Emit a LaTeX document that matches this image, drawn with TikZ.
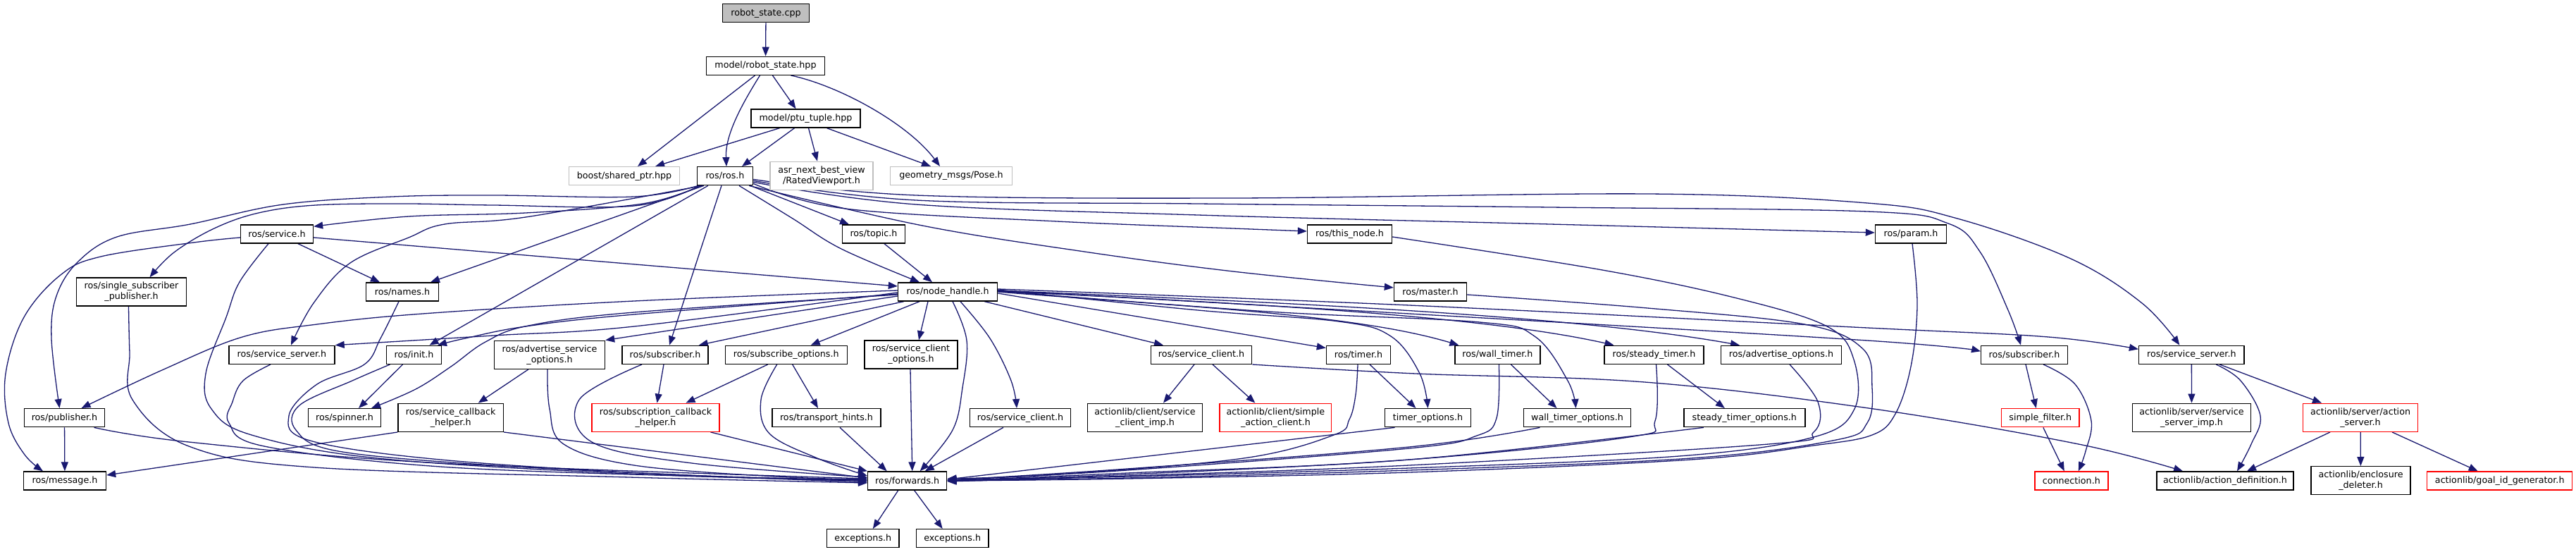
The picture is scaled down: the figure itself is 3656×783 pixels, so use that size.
\documentclass[tikz,border=0pt]{standalone}
\usepackage{fontspec}
\setmainfont{DejaVu Sans}
\usetikzlibrary{arrows.meta}
\definecolor{edgec}{HTML}{191970}
\definecolor{lgray}{HTML}{BFBFBF}
\pgfdeclarelayer{bg}
\pgfsetlayers{bg,main}
\begin{document}
\begin{tikzpicture}[x=1pt,y=-1pt,
  box/.style={draw=black, line width=1.4pt, fill=white, inner sep=0pt, minimum height=26pt, align=center, font=\fontsize{12.7}{15}\selectfont},
  tbox/.style={box, minimum height=40pt},
  gbox/.style={box, draw=lgray},
  rbox/.style={box, draw=red},
  e/.style={draw=edgec, line width=1.3pt, -{Triangle[length=13pt,width=10pt]}},
  sm/.style={smooth, tension=0.6}]
\useasboundingbox (0,0) rectangle (3656,783);
% nodes
\node[box, fill=lgray, minimum width=123pt] (cpp) at (1087,18.7) {robot\_state.cpp};
\node[box, minimum width=168pt] (rsh) at (1086.5,93.3) {model/robot\_state.hpp};
\node[box, minimum width=155pt] (ptu) at (1143.5,168) {model/ptu\_tuple.hpp};
\node[gbox, minimum width=157pt] (boost) at (886,249.7) {boost/shared\_ptr.hpp};
\node[box, minimum width=79pt] (ros) at (1029,249.7) {ros/ros.h};
\node[gbox, minimum height=40pt, minimum width=146pt] (rv) at (1166,249.3) {asr\_next\_best\_view\\/RatedViewport.h};
\node[gbox, minimum width=173pt] (pose) at (1350,249.6) {geometry\_msgs/Pose.h};
\node[box, minimum width=103pt] (service) at (393,332) {ros/service.h};
\node[box, minimum width=89.5pt] (topic) at (1240,332) {ros/topic.h};
\node[box, minimum width=120pt] (thisnode) at (1915.5,332) {ros/this\_node.h};
\node[box, minimum width=101pt] (param) at (2712,332) {ros/param.h};
\node[tbox, minimum width=156pt] (ssp) at (186.5,414) {ros/single\_subscriber\\\_publisher.h};
\node[box, minimum width=103pt] (names) at (571,414) {ros/names.h};
\node[box, minimum width=141pt] (nh) at (1345,414) {ros/node\_handle.h};
\node[box, minimum width=103pt] (master) at (2030,414) {ros/master.h};
\node[box, minimum width=150pt] (ssl) at (400,503.3) {ros/service\_server.h};
\node[box, minimum width=77.5pt] (init) at (587.5,503.3) {ros/init.h};
\node[tbox, minimum width=157pt] (aso) at (780,503.2) {ros/advertise\_service\\\_options.h};
\node[box, minimum width=122pt] (subl) at (944,503.3) {ros/subscriber.h};
\node[box, minimum width=173pt] (subopt) at (1115.7,503.3) {ros/subscribe\_options.h};
\node[tbox, minimum width=132pt] (sco) at (1293,503) {ros/service\_client\\\_options.h};
\node[box, minimum width=143.5pt] (sc4) at (1705,503.3) {ros/service\_client.h};
\node[box, minimum width=91pt] (timer) at (1928,503.3) {ros/timer.h};
\node[box, minimum width=121pt] (wtimer) at (2125.4,503.3) {ros/wall\_timer.h};
\node[box, minimum width=141pt] (stimer) at (2347.5,503.3) {ros/steady\_timer.h};
\node[box, minimum width=171pt] (advopt) at (2528,503.3) {ros/advertise\_options.h};
\node[box, minimum width=122.5pt] (subr) at (2873,503.3) {ros/subscriber.h};
\node[box, minimum width=149.4pt] (ssr) at (3110.3,503.3) {ros/service\_server.h};
\node[box, minimum width=114pt] (pub) at (91.5,592.7) {ros/publisher.h};
\node[box, minimum width=103.4pt] (spinner) at (489,592.7) {ros/spinner.h};
\node[tbox, minimum width=149.3pt] (sch) at (639.7,592.3) {ros/service\_callback\\\_helper.h};
\node[rbox, minimum height=40pt, minimum width=181pt] (subcb) at (930.5,592.3) {ros/subscription\_callback\\\_helper.h};
\node[box, minimum width=154.3pt] (th) at (1173,592.7) {ros/transport\_hints.h};
\node[box, minimum width=143.5pt] (sc5) at (1448,592.7) {ros/service\_client.h};
\node[tbox, minimum width=163.3pt] (scimp) at (1625,592.3) {actionlib/client/service\\\_client\_imp.h};
\node[rbox, minimum height=40pt, minimum width=158.7pt] (sac) at (1810.4,592.3) {actionlib/client/simple\\\_action\_client.h};
\node[box, minimum width=122pt] (topt) at (2026.5,592.7) {timer\_options.h};
\node[box, minimum width=152pt] (wtopt) at (2238.5,592.7) {wall\_timer\_options.h};
\node[box, minimum width=172pt] (stopt) at (2475.8,592.7) {steady\_timer\_options.h};
\node[rbox, minimum width=110.4pt] (sfilter) at (2895.8,592.7) {simple\_filter.h};
\node[tbox, minimum width=168.3pt] (ssimp) at (3110.5,592.3) {actionlib/server/service\\\_server\_imp.h};
\node[rbox, minimum height=40pt, minimum width=162.5pt] (asrv) at (3350,592.3) {actionlib/server/action\\\_server.h};
\node[box, minimum width=117pt] (msg) at (92,682) {ros/message.h};
\node[box, minimum width=112pt] (fwd) at (1287.7,682) {ros/forwards.h};
\node[rbox, minimum width=104pt] (conn) at (2939.8,682) {connection.h};
\node[box, minimum width=194pt] (adef) at (3158,682) {actionlib/action\_definition.h};
\node[tbox, minimum width=141pt] (encl) at (3350.5,681.7) {actionlib/enclosure\\\_deleter.h};
\node[rbox, minimum width=206pt] (goal) at (3547.7,682) {actionlib/goal\_id\_generator.h};
\node[box, minimum width=102.5pt] (exc1) at (1224.8,763.7) {exceptions.h};
\node[box, minimum width=102.5pt] (exc2) at (1351.7,763.7) {exceptions.h};

\begin{pgfonlayer}{bg}
\fill[white] (0,0) rectangle (3656,783);
% top
\draw[e] (cpp) -- (rsh);
\draw[e] ([xshift=-15pt]rsh.south) -- ([xshift=19pt]boost.north);
\draw[e] ([xshift=-8pt]rsh.south) .. controls +(-25,40) and +(-2,-45) .. ([xshift=2pt]ros.north);
\draw[e] ([xshift=10pt]rsh.south) -- ([xshift=-14pt]ptu.north);
\draw[e] ([xshift=36pt]rsh.south) .. controls +(70,15) and +(-45,-60) .. ([xshift=-16pt]pose.north);
\draw[e] ([xshift=-37pt]ptu.south) -- ([xshift=44pt]boost.north);
\draw[e] ([xshift=-16pt]ptu.south) -- ([xshift=24pt]ros.north);
\draw[e] ([xshift=4pt]ptu.south) -- ([xshift=-6pt]rv.north);
\draw[e] ([xshift=30pt]ptu.south) -- ([xshift=-29pt]pose.north);
% ros.h
\draw[e] plot[sm] coordinates {([xshift=2pt]ros.south west) (900,279) (700,277) (557,279) (402,290) (270,318) (166,336) (110,372) (80,420) (73,480) ([xshift=-7pt]pub.north)};
\draw[e] plot[sm] coordinates {([xshift=4pt]ros.south west) (900,292) (700,291) (574,289) (448,291) (367,302) (304,324) (247,358) ([xshift=26pt]ssp.north)};
\draw[e] plot[sm] coordinates {([xshift=6pt]ros.south west) (912,289) (746,302) (580,307) ([yshift=-3pt]service.north east)};
\draw[e] plot[sm] coordinates {([xshift=8pt]ros.south west) (746,308) (631,318) (580,337) (497,373) (445,430) ([xshift=13pt]ssl.north)};
\draw[e] ([xshift=10pt]ros.south west) -- ([xshift=40pt]names.north);
\draw[e] ([xshift=16pt]ros.south west) -- ([xshift=22pt]init.north);
\draw[e] ([xshift=-5pt]ros.south) -- ([xshift=6pt]subl.north);
\draw[e] plot[sm] coordinates {([xshift=20pt]ros.south) (1125,310) (1194,353) ([xshift=-40pt]nh.north)};
\draw[e] ([xshift=36pt]ros.south) -- ([xshift=-35pt]topic.north);
\draw[e] plot[sm] coordinates {([yshift=3pt]ros.south east) (1200,296) (1500,314) (1750,324) ([yshift=4pt]thisnode.west)};
\draw[e] plot[sm] coordinates {([yshift=5pt]ros.south east) (1300,290) (1700,305) (2200,318) ([yshift=2pt]param.west)};
\draw[e] plot[sm] coordinates {([xshift=-6pt]ros.south east) (1309,320) (1539,357) (1750,385) ([yshift=6pt]master.west)};
\draw[e] plot[sm] coordinates {([yshift=7pt]ros.south east) (1300,284) (1700,289) (2200,294) (2650,300) (2765,317) (2810,357) (2850,440) ([xshift=-5pt]subr.north)};
\draw[e] plot[sm] coordinates {([yshift=9pt]ros.south east) (1300,277) (1750,281) (2338,275) (2650,288) (2778,310) (2939,367) (3040,430) ([xshift=-17pt]ssr.north)};
% service.h
\draw[e] plot[sm] coordinates {([yshift=-5pt]service.west) (275,344) (143,364) (86,390) (34,450) (8,530) (12,600) (35,645) ([xshift=-31pt]msg.north)};
\draw[e] ([xshift=30pt]service.south) -- ([xshift=-32pt]names.north);
\draw[e] ([yshift=-5pt]service.east) -- ([yshift=8pt]nh.west);
\draw[e] plot[sm] coordinates {([xshift=-12pt]service.south) (340,400) (321,450) (292,530) (300,580) (357,617) (536,650) (893,672) (fwd.west)};
\draw[e] ([xshift=15pt]topic.south) -- ([xshift=-22pt]nh.north);
% this_node, master, param
\draw[e] plot[sm] coordinates {([yshift=-4pt]thisnode.east) (2274,383) (2465,423) (2593,463) (2631,510) (2632,580) (2574,620) (2383,647) (2000,664) (1600,676) ([yshift=1pt]fwd.east)};
\draw[e] plot[sm] coordinates {([yshift=-4pt]master.east) (2338,437) (2561,460) (2644,495) (2657,550) (2650,600) (2606,624) (2400,650) (2000,667) (1600,678) (fwd.east)};
\draw[e] plot[sm] coordinates {([xshift=2pt]param.south) (2721,433) (2712,520) (2690,587) (2657,617) (2574,632) (2400,652) (2000,670) (1600,679) (fwd.east)};
% node_handle right
\draw[e] ([xshift=-19pt]nh.south east) -- ([xshift=-54pt]sc4.north);
\draw[e] ([yshift=-2pt]nh.east) -- ([yshift=-4pt]timer.north west);
\draw[e] (nh.east) .. controls +(250,20) and +(-150,-45) .. ([xshift=-55pt]wtimer.north);
\draw[e] ([yshift=1pt]nh.east) .. controls +(300,15) and +(-200,-45) .. ([xshift=-57pt]stimer.north);
\draw[e] ([yshift=2pt]nh.east) .. controls +(350,15) and +(-250,-45) .. ([xshift=-59pt]advopt.north);
\draw[e] plot[sm] coordinates {([yshift=2pt]nh.east) (2000,445) (2650,483) ([yshift=5pt]subr.west)};
\draw[e] plot[sm] coordinates {([yshift=4pt]nh.east) (2000,433) (2650,465) (2907,478) ([yshift=8pt]ssr.west)};
\draw[e] plot[sm] coordinates {([yshift=3pt]nh.east) (1700,440) (1900,456) (1974,477) (2015,530) (topt.north)};
\draw[e] plot[sm] coordinates {([yshift=1pt]nh.east) (1800,442) (2100,457) (2178,477) (2225,540) ([xshift=-2pt]wtopt.north)};
% node_handle left / down
\draw[e] plot[sm] coordinates {([yshift=2pt]nh.west) (900,427) (600,445) (450,460) (344,478) (230,525) ([xshift=24pt]pub.north)};
\draw[e] plot[sm] coordinates {([yshift=-1pt]nh.west) (900,463) (700,476) (ssl.north east)};
\draw[e] plot[sm] coordinates {([yshift=-3pt]nh.west) (900,446) (746,463) (660,480) ([xshift=-6pt]init.north east)};
\draw[e] plot[sm] coordinates {([yshift=-4pt]nh.west) (900,443) (750,462) (689,485) (640,520) (590,552) ([xshift=38pt]spinner.north)};
\draw[e] ([yshift=-6pt]nh.west) -- (aso.north east);
\draw[e] ([xshift=9pt]nh.south west) -- ([xshift=-14pt]subl.north east);
\draw[e] ([xshift=-40pt]nh.south) -- ([xshift=35pt]subopt.north);
\draw[e] ([xshift=-28pt]nh.south) -- ([xshift=11pt]sco.north);
\draw[e] plot[sm] coordinates {([xshift=7pt]nh.south) (1372,483) (1366,550) (1352,610) ([xshift=18pt]fwd.north)};
\draw[e] plot[sm] coordinates {([xshift=18pt]nh.south) (1405,480) (1435,540) ([xshift=-5pt]sc5.north)};
% lower left
\draw[e] ([xshift=-16pt]init.south) -- ([xshift=20pt]spinner.north);
\draw[e] plot[sm] coordinates {([xshift=-34pt]init.south) (500,540) (425,575) (420,610) (480,640) (700,660) (1000,675) ([yshift=-2pt]fwd.west)};
\draw[e] plot[sm] coordinates {([xshift=-16pt]ssl.south) (345,540) (330,570) (325,600) (375,633) (625,662) (1000,676) (fwd.west)};
\draw[e] plot[sm] coordinates {([xshift=-5pt]names.south) (540,480) (517,517) (450,545) (410,590) (440,625) (625,652) (950,673) ([yshift=1pt]fwd.west)};
\draw[e] plot[sm] coordinates {([xshift=-4pt]ssp.south) (184,500) (188,567) (268,633) (446,663) (893,677) ([yshift=-3pt]fwd.west)};
\draw[e] plot[sm] coordinates {([xshift=42pt]pub.south) (268,627) (625,657) ([yshift=3pt]fwd.west)};
\draw[e] (pub) -- (msg);
\draw[e] ([xshift=-30pt]aso.south) -- ([xshift=39pt]sch.north);
\draw[e] plot[sm] coordinates {([xshift=-3pt]aso.south) (780,580) (800,630) (900,660) (1100,676) ([yshift=2pt]fwd.west)};
\draw[e] (sch.south west) -- ([yshift=8pt]msg.east);
\draw[e] (sch.south east) -- ([yshift=4pt]fwd.west);
\draw[e] ([xshift=-2pt]subl.south) -- ([xshift=2pt]subcb.north);
\draw[e] plot[sm] coordinates {([xshift=-33pt]subl.south) (822,567) (840,627) (982,657) ([yshift=5pt]fwd.west)};
\draw[e] ([xshift=-26pt]subopt.south) -- ([xshift=43pt]subcb.north);
\draw[e] ([xshift=9pt]subopt.south) -- ([xshift=-12pt]th.north);
\draw[e] plot[sm] coordinates {([xshift=-13pt]subopt.south) (1080,567) (1092,615) (1160,650) ([yshift=7pt]fwd.west)};
\draw[e] ([xshift=78pt]subcb.south) -- (fwd.north west);
\draw[e] ([xshift=19pt]th.south) -- ([xshift=-29pt]fwd.north);
\draw[e] ([xshift=-1pt]sco.south) -- ([xshift=7pt]fwd.north);
\draw[e] ([xshift=-24pt]sc5.south) -- ([xshift=25pt]fwd.north);
% service_client row 4
\draw[e] ([xshift=-10pt]sc4.south) -- ([xshift=26pt]scimp.north);
\draw[e] ([xshift=16pt]sc4.south) -- ([xshift=-29pt]sac.north);
\draw[e] plot[sm] coordinates {(sc4.south east) (2009,530) (2334,542) (2659,580) (2950,630) ([xshift=-60pt]adef.north)};
% timers into forwards
\draw[e] plot[sm] coordinates {([xshift=-1pt]timer.south) (1924,560) (1915,595) (1893,617) (1765,650) (1500,673) ([yshift=3pt]fwd.east)};
\draw[e] ([xshift=16pt]timer.south) -- ([xshift=-17pt]topt.north);
\draw[e] ([xshift=19pt]wtimer.south) -- ([xshift=-29pt]wtopt.north);
\draw[e] ([xshift=19pt]stimer.south) -- ([xshift=-28pt]stopt.north);
\draw[e] ([xshift=-47pt]topt.south) -- ([yshift=2pt]fwd.east);
\draw[e] plot[sm] coordinates {([xshift=-53pt]wtopt.south) (2000,634) (1600,665) ([yshift=1pt]fwd.east)};
\draw[e] plot[sm] coordinates {([xshift=-58pt]stopt.south) (2000,652) (1600,671) (fwd.east)};
\draw[e] plot[sm] coordinates {([xshift=2pt]wtimer.south) (2124,593) (2096,618) (2000,636) (1600,667) ([yshift=1pt]fwd.east)};
\draw[e] plot[sm] coordinates {([xshift=3pt]stimer.south) (2349,597) (2312,620) (2000,652) (1600,673) (fwd.east)};
\draw[e] plot[sm] coordinates {([xshift=12pt]advopt.south) (2580,570) (2574,613) (2510,630) (2000,660) (1600,675) ([yshift=-1pt]fwd.east)};
% right part
\draw[e] ([xshift=4pt]sfilter.south) -- ([xshift=-10pt]conn.north);
\draw[e] ([xshift=2pt]subr.south) -- ([xshift=-6pt]sfilter.north);
\draw[e] plot[sm] coordinates {([xshift=27pt]subr.south) (2945,545) (2968,597) (2960,640) ([xshift=10pt]conn.north)};
\draw[e] (ssr) -- (ssimp);
\draw[e] ([xshift=40pt]ssr.south) -- ([xshift=-55pt]asrv.north);
\draw[e] plot[sm] coordinates {([xshift=35pt]ssr.south) (3180,540) (3208,590) (3195,630) ([xshift=17pt]adef.north)};
\draw[e] ([xshift=-43pt]asrv.south) -- ([xshift=31pt]adef.north);
\draw[e] (asrv) -- (encl);
\draw[e] ([xshift=45pt]asrv.south) -- ([xshift=-31pt]goal.north);
% forwards
\draw[e] ([xshift=-13pt]fwd.south) -- ([xshift=14pt]exc1.north);
\draw[e] ([xshift=10pt]fwd.south) -- ([xshift=-14pt]exc2.north);
\end{pgfonlayer}
\end{tikzpicture}
\end{document}
